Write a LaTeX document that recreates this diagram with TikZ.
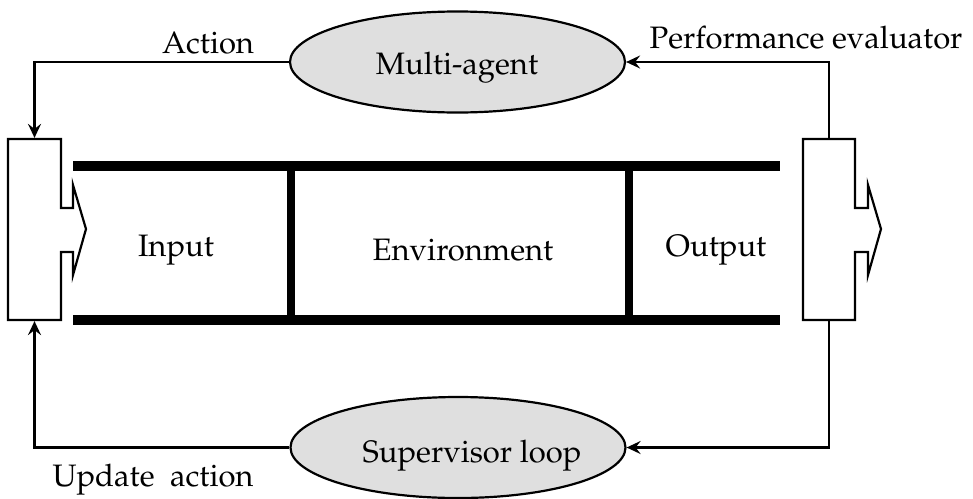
\documentclass[tikz,border=0pt]{standalone}
\usepackage[T1]{fontenc}
\usepackage{mathpazo}
\usetikzlibrary{shapes.geometric,arrows.meta}
\begin{document}
\begin{tikzpicture}[x=1pt,y=-1pt,line width=2.2pt,
  loopnode/.style={ellipse,draw,line width=2.2pt,fill=gray!25,minimum width=335pt,minimum height=101pt,inner sep=0pt},
  boxnode/.style={inner sep=0pt,minimum width=53pt,minimum height=181pt},
  lbl/.style={font=\fontsize{31}{34}\selectfont,inner sep=0pt},
  bar/.style={line width=10pt},
  vbar/.style={line width=8pt},
  conn/.style={-{Stealth[length=14pt,width=13pt,inset=5pt]},line width=2.2pt}]
\useasboundingbox (0,0) rectangle (973,498);
% boxes
\node[boxnode] (inbox) at (34.5,229.5) {};
\node[boxnode] (outbox) at (829,229.5) {};
\draw[fill=white,line join=miter] (8,139) -- (61,139) -- (61,208) -- (73,208) -- (73,185) -- (86,229) -- (73,275) -- (73,252) -- (61,252) -- (61,320) -- (8,320) -- cycle;
\draw[fill=white,line join=miter] (803,139) -- (855,139) -- (855,208) -- (868,208) -- (868,185) -- (881,229) -- (868,275) -- (868,252) -- (855,252) -- (855,320) -- (803,320) -- cycle;
% bars
\draw[bar] (73,166) -- (780,166);
\draw[bar] (73,320) -- (780,320);
\draw[vbar] (291,166) -- (291,320);
\draw[vbar] (629,166) -- (629,320);
\node[lbl] (input) at (176,250) {Input};
\node[lbl] (env) at (463,250) {Environment};
\node[lbl] (output) at (716,250) {Output};
% ellipses
\node[loopnode] (ma) at (457.5,62) {};
\node[lbl] (matext) at (457,68) {Multi-agent};
\node[loopnode] (sl) at (458,447.5) {};
\node[lbl] (sltext) at (472,456) {Supervisor loop};
% connectors
\draw[conn] (ma.west) -| (inbox.north);
\draw[conn] (outbox.north) |- (ma.east);
\draw[conn] (outbox.south) |- (sl.east);
\draw[conn] (sl.west) -| (inbox.south);
% labels
\node[lbl] (act) at (208,43) {Action};
\node[lbl] (perf) at (806,38) {Performance evaluator};
\node[lbl] (upd) at (153,480) {Update\ \ action};
\end{tikzpicture}
\end{document}
